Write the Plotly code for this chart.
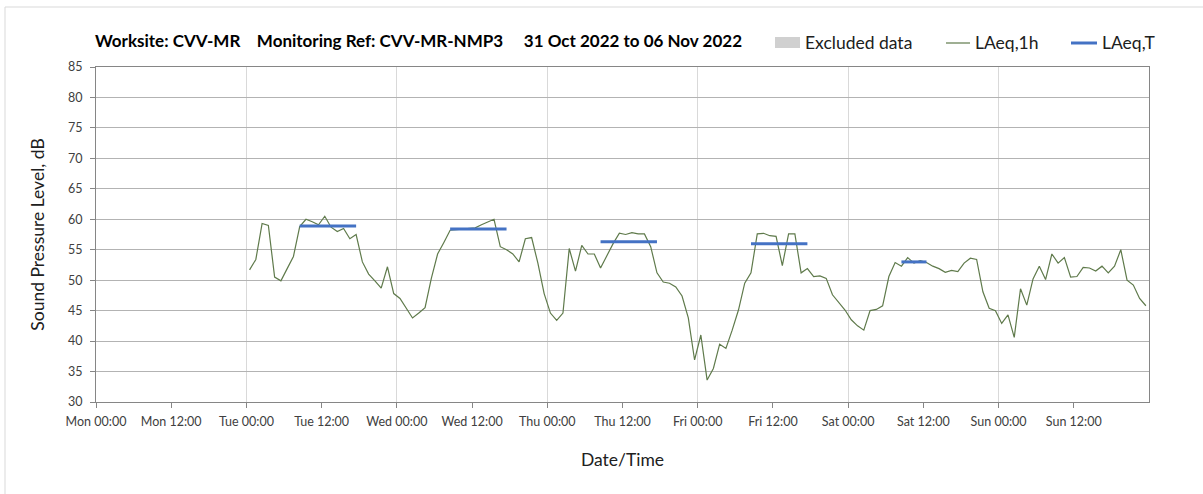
import pandas as pd
import plotly.graph_objects as go

# ---------------- data ----------------
title_text = "Worksite: CVV-MR    Monitoring Ref: CVV-MR-NMP3     31 Oct 2022 to 06 Nov 2022"

laeq_1h_first = "2022-11-01 00:30"   # hourly values, plotted at mid-hour
laeq_1h = [
    # Tue
    51.7, 53.4, 59.3, 59.0, 50.5, 49.9, 51.9, 53.9, 58.8, 60.0, 59.6, 59.1,
    60.5, 58.7, 58.0, 58.5, 56.8, 57.5, 53.0, 51.0, 49.9, 48.7, 52.2, 47.8,
    # Wed
    47.0, 45.5, 43.8, 44.6, 45.5, 50.3, 54.3, 56.2, 58.2, 58.3, 58.4, 58.4,
    58.6, 59.1, 59.6, 60.0, 55.5, 55.0, 54.3, 53.0, 56.8, 57.0, 52.8, 47.8,
    # Thu
    44.6, 43.4, 44.6, 55.2, 51.5, 55.7, 54.3, 54.3, 52.0, 54.0, 56.0, 57.7,
    57.5, 57.8, 57.6, 57.6, 55.5, 51.2, 49.7, 49.5, 48.9, 47.4, 43.8, 36.9,
    # Fri
    41.0, 33.6, 35.5, 39.5, 38.8, 41.8, 45.1, 49.5, 51.2, 57.6, 57.7, 57.3,
    57.2, 52.4, 57.6, 57.6, 51.2, 51.9, 50.6, 50.7, 50.3, 47.6, 46.3, 45.1,
    # Sat
    43.5, 42.5, 41.8, 45.0, 45.2, 45.8, 50.6, 52.9, 52.3, 53.7, 52.8, 53.2,
    52.9, 52.3, 51.9, 51.3, 51.6, 51.4, 52.8, 53.6, 53.4, 48.1, 45.4, 45.0,
    # Sun
    42.9, 44.3, 40.6, 48.6, 45.9, 50.2, 52.3, 50.1, 54.3, 52.8, 53.7, 50.5,
    50.6, 52.1, 52.0, 51.5, 52.3, 51.2, 52.3, 55.0, 50.0, 49.2, 47.0, 45.8,
]

laeqT_start = ["2022-11-01 08:30", "2022-11-02 08:30", "2022-11-03 08:30",
               "2022-11-04 08:30", "2022-11-05 08:30"]
laeqT_end = ["2022-11-01 17:30", "2022-11-02 17:30", "2022-11-03 17:30",
             "2022-11-04 17:30", "2022-11-05 12:30"]
laeqT_values = [58.9, 58.4, 56.3, 56.0, 53.0]

tick_labels = ["Mon 00:00", "Mon 12:00", "Tue 00:00", "Tue 12:00", "Wed 00:00",
               "Wed 12:00", "Thu 00:00", "Thu 12:00", "Fri 00:00", "Fri 12:00",
               "Sat 00:00", "Sat 12:00", "Sun 00:00", "Sun 12:00"]
x_range = ["2022-10-31 00:00", "2022-11-07 00:00"]
y_range = [30, 85]

# ---------------- styling ----------------
FONT = "Lato"
GREEN = "#5F7A4B"
BLUE = "#4472C4"
GREY_FILL = "#D0D0D0"
TXT = "#404040"

W, H = 1203, 494
ML, MR, MT, MB = 96, 54, 67, 92
PW, PH = W - ML - MR, H - MT - MB


def px(x):
    return (x - ML) / PW


def py(y):
    return (H - MB - y) / PH


x_1h = pd.date_range(laeq_1h_first, periods=len(laeq_1h), freq="h")
tick_vals = pd.date_range(x_range[0], periods=len(tick_labels), freq="12h")

xs_T, ys_T = [], []
for s, e, v in zip(laeqT_start, laeqT_end, laeqT_values):
    xs_T += [s, e, None]
    ys_T += [v, v, None]

fig = go.Figure()
fig.add_trace(go.Scatter(x=x_1h, y=laeq_1h, mode="lines", name="LAeq,1h",
                         line=dict(color=GREEN, width=1.2), showlegend=False))
fig.add_trace(go.Scatter(x=xs_T, y=ys_T, mode="lines", name="LAeq,T",
                         line=dict(color=BLUE, width=3), showlegend=False))

shapes = [
    # outer chart border
    dict(type="rect", xref="paper", yref="paper", x0=px(5), x1=px(1230),
         y0=py(530), y1=py(7), line=dict(color="#D9D9D9", width=1),
         fillcolor="rgba(0,0,0,0)", layer="below"),
    # legend swatches
    dict(type="rect", xref="paper", yref="paper", x0=px(775), x1=px(800),
         y0=py(48), y1=py(37), line=dict(width=0), fillcolor=GREY_FILL),
    dict(type="line", xref="paper", yref="paper", x0=px(946), x1=px(970),
         y0=py(43), y1=py(43), line=dict(color=GREEN, width=1.2)),
    dict(type="line", xref="paper", yref="paper", x0=px(1071), x1=px(1097),
         y0=py(43), y1=py(43), line=dict(color=BLUE, width=3)),
]

LEG_FONT = dict(family=FONT, size=17.5, color="#202020")
annotations = [
    dict(text="Excluded data", x=px(803), y=py(43), xref="paper", yref="paper",
         xanchor="left", yanchor="middle", showarrow=False, font=LEG_FONT),
    dict(text="LAeq,1h", x=px(973), y=py(43), xref="paper", yref="paper",
         xanchor="left", yanchor="middle", showarrow=False, font=LEG_FONT),
    dict(text="LAeq,T", x=px(1100), y=py(43), xref="paper", yref="paper",
         xanchor="left", yanchor="middle", showarrow=False, font=LEG_FONT),
]

fig.update_layout(
    width=W, height=H,
    margin=dict(l=ML, r=MR, t=MT, b=MB, pad=0),
    paper_bgcolor="white", plot_bgcolor="white",
    font=dict(family=FONT, size=12, color=TXT),
    title=dict(text="<b>" + title_text + "</b>", xref="container", yref="container",
               x=95 / W, y=1 - 41 / H, xanchor="left", yanchor="middle",
               font=dict(family=FONT, size=17, color="#000000")),
    shapes=shapes,
    annotations=annotations,
    showlegend=False,
)

fig.update_xaxes(
    range=x_range, type="date",
    tickvals=tick_vals, ticktext=tick_labels,
    ticks="outside", ticklen=5, tickcolor="#868686",
    tickfont=dict(family=FONT, size=12.5, color=TXT),
    ticklabelstandoff=3,
    showline=True, linecolor="#868686", linewidth=1, mirror=True,
    showgrid=False, zeroline=False,
    minor=dict(dtick=24 * 3600 * 1000, tick0=x_range[0], showgrid=True,
               gridcolor="#D9D9D9", gridwidth=1, ticks=""),
    title=dict(text="Date/Time", standoff=25,
               font=dict(family=FONT, size=17.5, color="#202020")),
)
fig.update_yaxes(
    range=y_range, dtick=5, tick0=30,
    ticks="outside", ticklen=5, tickcolor="#868686",
    tickfont=dict(family=FONT, size=12.5, color=TXT),
    ticklabelstandoff=5,
    showline=True, linecolor="#868686", linewidth=1, mirror=True,
    showgrid=True, gridcolor="#B3B3B3", gridwidth=1, zeroline=False,
    title=dict(text="Sound Pressure Level, dB", standoff=18,
               font=dict(family=FONT, size=17.5, color="#202020")),
)

fig.write_html("out.html",
               config={"displayModeBar": False},
               post_script="document.body.style.margin='0px';")
